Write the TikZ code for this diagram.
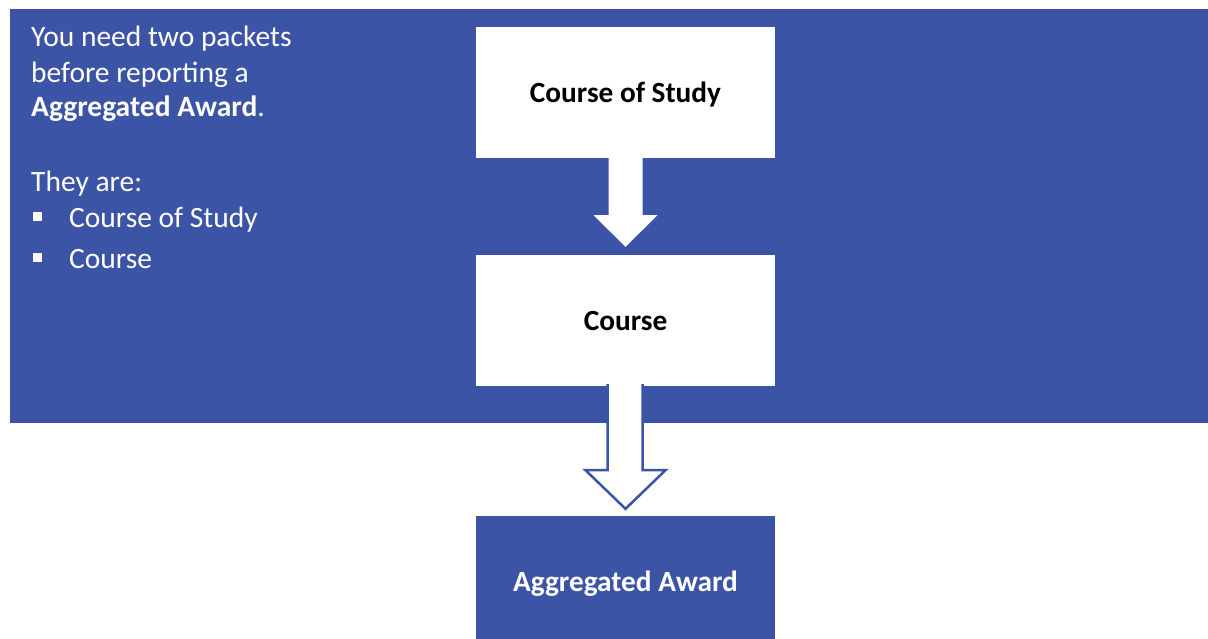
\documentclass[tikz,border=0pt]{standalone}
\usepackage{fontspec}
\setmainfont{Carlito}
\usetikzlibrary{calc}
\definecolor{panelblue}{RGB}{60,84,166}
\tikzset{
  flowbox/.style={rectangle, minimum width=299pt, minimum height=131pt, inner sep=0pt,
    font=\fontsize{29.3}{34}\selectfont\bfseries, text height=20pt, text depth=0pt},
  whitebox/.style={flowbox, fill=white, text=black},
  bluebox/.style={flowbox, fill=panelblue, text=white},
  leftline/.style={anchor=base west, inner sep=0pt, text=white, font=\fontsize{29.5}{34}\selectfont},
  bulletsq/.style={fill=white, draw=none},
  solidarrow/.style={fill=white, draw=none},
  hollowarrow/.style={fill=white, draw=panelblue, line width=2.5pt, line join=miter},
}
\begin{document}
\begin{tikzpicture}[x=1pt,y=-1pt]
\useasboundingbox (0,0) rectangle (1208,639);
\fill[white] (0,0) rectangle (1208,639);
\begin{scope}
\clip (0,0) rectangle (1208,639);
\fill[panelblue] (10,9) rectangle (1208,423);

\node[whitebox] (cos) at (625.5,92.5) {Course of Study};
\node[whitebox] (course) at (625.5,320.5) {Course};
\node[bluebox] (agg) at (625.5,581.5) {Aggregated Award};

% solid white arrow
\fill[solidarrow] ($(cos.south)+(-17,0)$) -- ($(cos.south)+(17,0)$) -- ($(cos.south)+(17,57)$)
  -- ($(cos.south)+(32,57)$) -- ($(course.north)+(0,-8)$) -- ($(cos.south)+(-32,57)$)
  -- ($(cos.south)+(-17,57)$) -- cycle;

% hollow arrow
\draw[hollowarrow] ($(course.south)+(-18,-2)$) -- ($(course.south)+(-18,84)$)
  -- ($(course.south)+(-40,84)$) -- ($(agg.north)+(0,-7)$) -- ($(course.south)+(40,84)$)
  -- ($(course.south)+(17,84)$) -- ($(course.south)+(17,-2)$);
\fill[white] ($(course.south)+(-16.7,-3)$) rectangle ($(course.south)+(15.7,1)$);
\end{scope}

\node[leftline] (l1) at (31,47) {You need two packets};
\node[leftline] (l2) at (31,82.5) {before reporting a};
\node[leftline] (l3) at (31,117) {\textbf{Aggregated Award}.};
\node[leftline] (l4) at (31,191.5) {They are:};
\fill[bulletsq] (33,212.5) rectangle (42,221);
\node[leftline] (b1) at (69,228) {Course of Study};
\fill[bulletsq] (33,253.5) rectangle (42,262);
\node[leftline] (b2) at (69,268.5) {Course};
\end{tikzpicture}
\end{document}
